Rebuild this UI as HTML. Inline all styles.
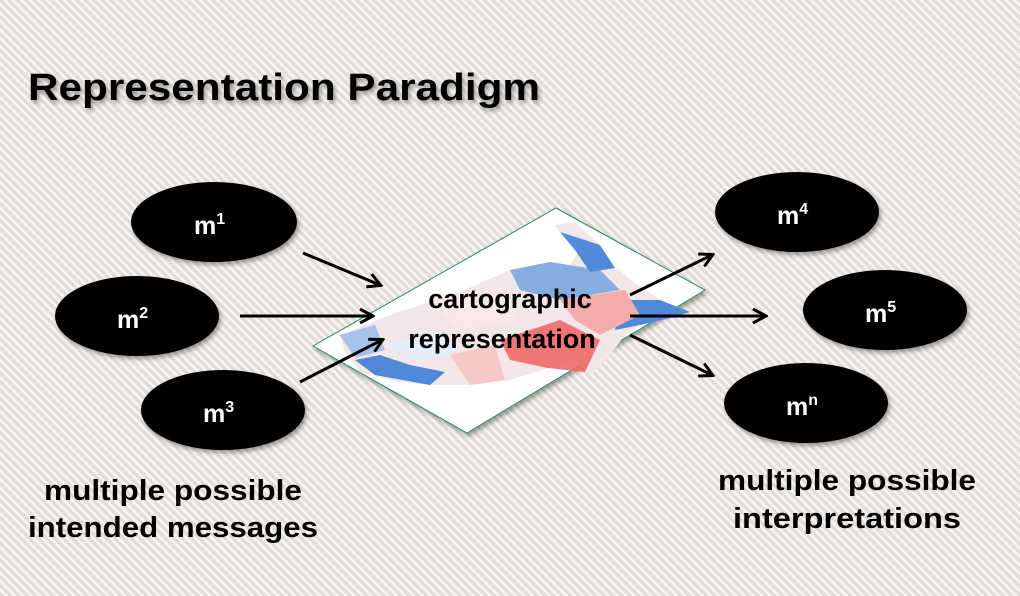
<!DOCTYPE html>
<html><head><meta charset="utf-8"><style>
html,body{margin:0;padding:0;width:1020px;height:596px;overflow:hidden}
body{background:repeating-linear-gradient(45deg,#e2ddd8 0 3.5px,#f7f5f3 3.5px 6px)}
svg{position:absolute;left:0;top:0}
text{font-family:"Liberation Sans",sans-serif;font-weight:bold}
</style></head><body>
<svg width="1020" height="596" viewBox="0 0 1020 596">
<defs>
<filter id="sh" x="-20%" y="-20%" width="140%" height="160%"><feDropShadow dx="2" dy="3" stdDeviation="2" flood-color="#000" flood-opacity="0.35"/></filter>
<marker id="ar" markerWidth="16" markerHeight="16" refX="13" refY="8" orient="auto" markerUnits="userSpaceOnUse" viewBox="0 0 16 16"><path d="M1,1 L14,8 L1,15" fill="none" stroke="#000" stroke-width="3"/></marker>
</defs>
<text x="28" y="100" font-size="38" textLength="512" lengthAdjust="spacingAndGlyphs" fill="#000" filter="url(#sh)">Representation Paradigm</text>

<!-- map -->
<g filter="url(#sh)">
<polygon points="556,208 705,290 467,433 313,346" fill="#fff" stroke="#2a8a6a" stroke-width="1"/>
</g>
<!-- US shape -->
<polygon points="340,335 390,315 460,292 510,270 550,262 570,266 585,240 560,232 555,225 575,222 600,245 610,265 620,270 628,278 660,300 690,312 670,318 640,325 625,335 610,355 600,365 590,375 575,360 548,368 510,380 470,385 430,385 400,382 360,372 345,352" fill="#f2e6e8"/>
<g opacity="0.9">
<polygon points="510,270 550,262 600,270 620,290 560,300 520,290" fill="#7aa7e0"/>
<polygon points="560,232 585,240 600,245 615,268 590,272 575,250" fill="#3f7fd6"/>
<polygon points="620,300 660,300 690,312 670,318 640,325 615,330" fill="#3f7fd6"/>
<polygon points="560,300 625,290 640,315 600,335 575,320" fill="#f5a5a5"/>
<polygon points="500,340 560,320 600,340 585,372 548,368 510,360" fill="#f06a6a"/>
<polygon points="450,355 495,345 505,380 470,385" fill="#f8c5c5"/>
<polygon points="340,335 375,325 385,350 355,358" fill="#9ec0ec"/>
<polygon points="355,360 375,375 430,385 445,372 410,365 380,355" fill="#3f7fd6"/>
<polygon points="385,345 440,330 460,350 420,362" fill="#e4eefb"/>
<polygon points="430,300 500,285 520,320 460,330" fill="#fbe8e8"/>
</g>
<text x="510" y="308" font-size="27" text-anchor="middle" fill="#000">cartographic</text>
<text x="502" y="348" font-size="27" text-anchor="middle" fill="#000">representation</text>

<g stroke="#000" stroke-width="3" marker-end="url(#ar)">
<line x1="303" y1="253" x2="380" y2="285"/>
<line x1="240" y1="316" x2="372" y2="316"/>
<line x1="300" y1="382" x2="382" y2="340"/>
<line x1="630" y1="295" x2="712" y2="255"/>
<line x1="630" y1="316" x2="765" y2="316"/>
<line x1="630" y1="335" x2="712" y2="375"/>
</g>

<g fill="#000" filter="url(#sh)">
<ellipse cx="214" cy="222" rx="83" ry="40"/>
<ellipse cx="137" cy="316" rx="82" ry="40"/>
<ellipse cx="223" cy="410" rx="82" ry="40"/>
<ellipse cx="797" cy="212" rx="82" ry="40"/>
<ellipse cx="885" cy="310" rx="82" ry="40"/>
<ellipse cx="806" cy="403" rx="82" ry="40"/>
</g>
<g fill="#fff" font-size="25">
<text x="194" y="234">m<tspan font-size="16" dy="-10">1</tspan></text>
<text x="117" y="328">m<tspan font-size="16" dy="-10">2</tspan></text>
<text x="203" y="422">m<tspan font-size="16" dy="-10">3</tspan></text>
<text x="777" y="224">m<tspan font-size="16" dy="-10">4</tspan></text>
<text x="865" y="322">m<tspan font-size="16" dy="-10">5</tspan></text>
<text x="786" y="415">m<tspan font-size="16" dy="-10">n</tspan></text>
</g>
<g fill="#000" font-size="29" text-anchor="middle">
<text x="173" y="500" textLength="258" lengthAdjust="spacingAndGlyphs">multiple possible</text>
<text x="173" y="537" textLength="290" lengthAdjust="spacingAndGlyphs">intended messages</text>
<text x="847" y="490" textLength="258" lengthAdjust="spacingAndGlyphs">multiple possible</text>
<text x="847" y="528" textLength="228" lengthAdjust="spacingAndGlyphs">interpretations</text>
</g>
</svg>
</body></html>
